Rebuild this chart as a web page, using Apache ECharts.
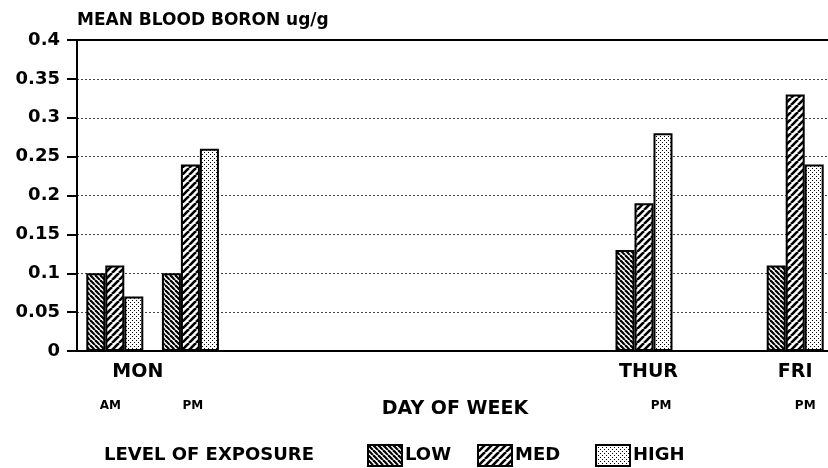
<!DOCTYPE html>
<html>
<head>
<meta charset="utf-8">
<script src="https://cdn.jsdelivr.net/npm/echarts@6/dist/echarts.min.js"></script>
<style>
  html, body { margin: 0; padding: 0; background: #fff; }
  #main { width: 828px; height: 468px; }
</style>
</head>
<body>
<div id="main"></div>
<script>
const categories = ['MON AM', 'MON PM', 'TUE AM', 'TUE PM', 'WED AM', 'WED PM', 'THUR AM', 'THUR PM', 'FRI AM', 'FRI PM'];
const dayLabels = ['MON', '', '', '', '', '', '', 'THUR', '', 'FRI'];
const timeLabels = ['AM', 'PM', '', '', '', '', '', 'PM', '', 'PM'];
const lowValues = [0.10, 0.10, null, null, null, null, null, 0.13, null, 0.11];
const medValues = [0.11, 0.24, null, null, null, null, null, 0.19, null, 0.33];
const highValues = [0.07, 0.26, null, null, null, null, null, 0.28, null, 0.24];
const yTicks = [0, 0.05, 0.1, 0.15, 0.2, 0.25, 0.3, 0.35, 0.4];

const FONT = "'DejaVu Sans', sans-serif";

// hatch / stipple fills like the old printed chart
function makePattern(kind) {
  const s = kind === 'low' ? 5 : kind === 'med' ? 7 : 4;
  const c = document.createElement('canvas');
  c.width = s; c.height = s;
  const ctx = c.getContext('2d');
  ctx.fillStyle = '#fff';
  ctx.fillRect(0, 0, s, s);
  ctx.strokeStyle = '#000';
  ctx.fillStyle = '#000';
  if (kind === 'high') {
    ctx.fillRect(0, 0, 1, 1);
    ctx.fillRect(2, 2, 1, 1);
  } else {
    ctx.lineWidth = kind === 'low' ? 2.2 : 2.6;
    for (let k = -1; k <= 1; k++) {
      ctx.beginPath();
      if (kind === 'low') {
        ctx.moveTo(k * s, 0); ctx.lineTo(k * s + s, s);
      } else {
        ctx.moveTo(k * s, s); ctx.lineTo(k * s + s, 0);
      }
      ctx.stroke();
    }
  }
  return { image: c, repeat: 'repeat' };
}

const patterns = { LOW: makePattern('low'), MED: makePattern('med'), HIGH: makePattern('high') };

// small horizontal nudges for the hand-placed labels
const dayRich = {
  s0: { padding: [0, 0, 0, 46] },
  s7: { padding: [0, 0, 0, 9] },
  s9: { padding: [0, 0, 0, 0] }
};
const timeRich = {
  t0: { padding: [0, 9, 0, 0] },
  t1: { padding: [0, 0, 0, 5] },
  t7: { padding: [0, 0, 0, 34] },
  t9: { padding: [0, 0, 0, 20] }
};

const chart = echarts.init(document.getElementById('main'));

function barSeries(name, data) {
  return {
    name: name,
    type: 'bar',
    data: data,
    barWidth: 19,
    barGap: '0%',
    itemStyle: { color: patterns[name], borderColor: '#000', borderWidth: 2 },
    emphasis: { disabled: true }
  };
}

function legendFor(name, left) {
  return {
    left: left,
    top: 444,
    itemWidth: 34,
    itemHeight: 21,
    padding: 0,
    icon: 'rect',
    selectedMode: false,
    itemStyle: { borderColor: '#000', borderWidth: 2 },
    textStyle: { fontFamily: FONT, fontWeight: 'bold', fontSize: 18, color: '#000', padding: [0, 0, 0, -2] },
    data: [name]
  };
}

chart.setOption({
  backgroundColor: '#fff',
  animation: false,
  textStyle: { fontFamily: FONT },
  grid: { left: 77, right: -5, top: 40, bottom: 117, containLabel: false, outerBoundsMode: 'none' },
  legend: [legendFor('LOW', 367), legendFor('MED', 477), legendFor('HIGH', 595)],
  graphic: [{
    type: 'text',
    left: 104,
    top: 446,
    style: { text: 'LEVEL OF EXPOSURE', font: 'bold 18px ' + FONT, fill: '#000' }
  }],
  xAxis: [{
    type: 'category',
    data: categories,
    position: 'bottom',
    name: 'DAY OF WEEK',
    nameLocation: 'middle',
    nameGap: 49,
    nameTextStyle: { fontFamily: FONT, fontWeight: 'bold', fontSize: 19, color: '#000' },
    axisLine: { lineStyle: { color: '#000', width: 2 } },
    axisTick: { show: false },
    axisLabel: {
      interval: 0,
      margin: 12,
      fontFamily: FONT,
      fontWeight: 'bold',
      fontSize: 19,
      color: '#000',
      formatter: (v, i) => dayLabels[i] ? '{s' + i + '|' + dayLabels[i] + '}' : '',
      rich: dayRich
    }
  }, {
    type: 'category',
    data: categories,
    position: 'bottom',
    axisLine: { show: false },
    axisTick: { show: false },
    axisLabel: {
      interval: 0,
      margin: 49,
      fontFamily: FONT,
      fontWeight: 'bold',
      fontSize: 12,
      color: '#000',
      formatter: (v, i) => timeLabels[i] ? '{t' + i + '|' + timeLabels[i] + '}' : '',
      rich: timeRich
    }
  }, {
    type: 'category',
    data: categories,
    position: 'top',
    axisLine: { lineStyle: { color: '#000', width: 2 } },
    axisTick: { show: false },
    axisLabel: { show: false }
  }],
  yAxis: {
    type: 'value',
    min: 0,
    max: 0.4,
    interval: 0.05,
    name: 'MEAN BLOOD BORON ug/g',
    nameLocation: 'end',
    nameGap: 11,
    nameTextStyle: { fontFamily: FONT, fontWeight: 'bold', fontSize: 17, color: '#000', align: 'left' },
    axisLine: { show: true, lineStyle: { color: '#000', width: 2 } },
    axisTick: { show: true, length: 10, lineStyle: { color: '#000', width: 2 } },
    axisLabel: {
      margin: 17,
      fontFamily: FONT,
      fontWeight: 'bold',
      fontSize: 18,
      color: '#000',
      formatter: v => yTicks.includes(+v.toFixed(2)) ? String(+v.toFixed(2)) : ''
    },
    splitLine: { show: true, lineStyle: { color: '#444', width: 1, type: [2, 2] } }
  },
  series: [
    barSeries('LOW', lowValues),
    barSeries('MED', medValues),
    barSeries('HIGH', highValues)
  ]
});
</script>
</body>
</html>
